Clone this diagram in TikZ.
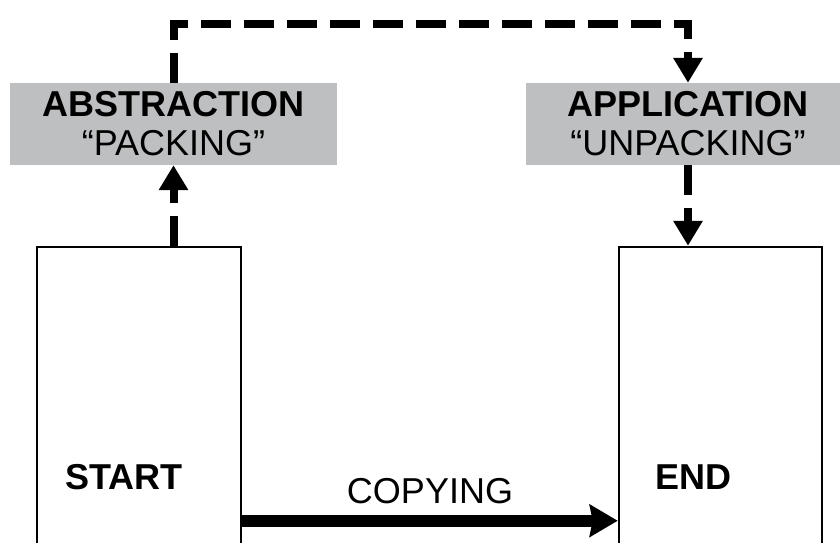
\documentclass[tikz,border=0pt]{standalone}
\usepackage{fontspec}
\setmainfont{Liberation Sans}
\usetikzlibrary{arrows.meta,calc,positioning}
\definecolor{stagegray}{RGB}{190,191,193}
\tikzset{
  statebox/.style={
    draw,
    line width=2.5pt,
    minimum width=204pt,
    minimum height=315pt,
    inner sep=0pt
  },
  statelabel/.style={
    inner sep=0pt,
    font=\fontsize{36}{39}\selectfont\bfseries
  },
  stagebox/.style={
    fill=stagegray,
    align=center,
    inner sep=0pt,
    minimum width=327pt,
    minimum height=82pt,
    font=\fontsize{36}{39}\selectfont
  },
  dashline/.style={
    line width=8pt,
    dash pattern=on 30pt off 13pt,
    -{Triangle[length=25pt,width=28pt]}
  },
  copyline/.style={
    line width=12pt,
    -{Stealth[length=28pt,width=32pt,inset=3pt]}
  }
}
\begin{document}
\begin{tikzpicture}[x=1pt, y=1pt]
  \useasboundingbox (0,0) rectangle (840,542);

  \node[statebox] (startbox) at (139,137.5) {};
  \node[statebox, minimum width=203pt] (endbox) at (720.5,137.5) {};
  \node[statelabel, anchor=base west] (start) at (65,53) {START};
  \node[statelabel, anchor=base west] (end) at (655,53) {END};

  \node[stagebox] (abs) at (173.5,418) {\textbf{ABSTRACTION}\\``PACKING''};
  \node[stagebox, minimum width=324pt] (app) at (688,418) {\textbf{APPLICATION}\\``UNPACKING''};

  \draw[copyline] ($(startbox.north east)+(0,-275)$) -- node[inner sep=0pt, above=11pt, font=\fontsize{36}{39}\selectfont] (copy) {COPYING} ($(endbox.north west)+(0,-275)$);

  \draw[dashline] (startbox.north -| abs.south) -- (abs.south);
  \draw[dashline] (abs.north) -- ++(0,59) -| (app.north);
  \draw[dashline] (app.south) -- (app.south |- endbox.north);
\end{tikzpicture}
\end{document}
